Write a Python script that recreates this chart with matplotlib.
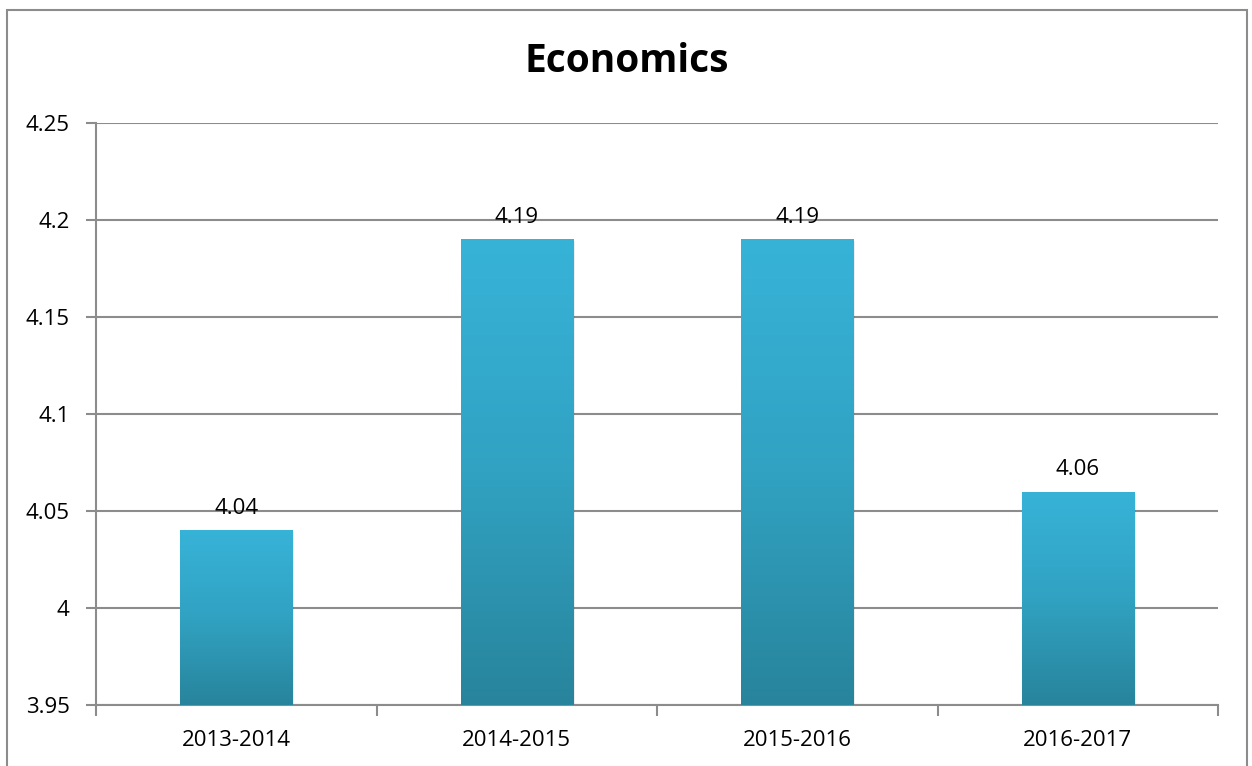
import numpy as np
import matplotlib
matplotlib.use('Agg')
from matplotlib import pyplot as plt
from matplotlib.patches import Rectangle
from matplotlib.colors import LinearSegmentedColormap

# data
years = ['2013-2014', '2014-2015', '2015-2016', '2016-2017']
scores = [4.04, 4.19, 4.19, 4.06]
y_ticks = [3.95, 4.0, 4.05, 4.1, 4.15, 4.2, 4.25]
y_labels = ['3.95', '4', '4.05', '4.1', '4.15', '4.2', '4.25']

plt.rcParams['font.family'] = ['Open Sans', 'DejaVu Sans']

fig = plt.figure(figsize=(12.52, 7.66), dpi=100)
ax = fig.add_axes([96/1252, 1 - 705/766, (1218 - 96)/1252, (705 - 123)/766])

# outer chart frame
fig.patches.append(Rectangle((7/1252, -0.05), (1247 - 7)/1252, 1.05 - 10/766,
                             transform=fig.transFigure, fill=False,
                             edgecolor='#8c8c8c', lw=1.5))

x = np.arange(len(years))
ymin, ymax = 3.95, 4.25
bars = ax.bar(x, np.array(scores) - ymin, bottom=ymin, width=0.40,
              color='none', zorder=3)

grad = LinearSegmentedColormap.from_list('bar', ['#28849c', '#31a2c2', '#37b3d8'])
g = np.linspace(0, 1, 256).reshape(-1, 1)
for b, v in zip(bars, scores):
    x0 = b.get_x()
    w = b.get_width()
    # soft shadow
    ax.add_patch(Rectangle((x0 + 0.006, ymin), w, v - ymin - 0.001,
                           facecolor='#000000', alpha=0.07, lw=0, zorder=2))
    im = ax.imshow(g, cmap=grad, origin='lower', aspect='auto',
                   extent=[x0, x0 + w, ymin, v], zorder=3, interpolation='bilinear')
    im.set_clip_path(b)
    ax.text(b.get_x() + w/2, v + 0.006, f'{v:.2f}', ha='center', va='bottom',
            fontsize=16, color='#000000', zorder=4)

ax.set_xlim(-0.5, len(years) - 0.5)
ax.set_ylim(ymin, ymax)
ax.set_yticks(y_ticks)
ax.set_yticklabels(y_labels, fontsize=16)
ax.set_xticks(x)
ax.set_xticklabels(years, fontsize=16)
ax.set_xticks(np.arange(-0.5, len(years)), minor=True)
ax.tick_params(axis='x', which='major', length=0, pad=18)
ax.tick_params(axis='x', which='minor', length=8, color='#8c8c8c', width=1.5)
ax.tick_params(axis='y', length=7, color='#8c8c8c', width=1.5, pad=12)

ax.grid(axis='y', color='#8c8c8c', lw=1.5, zorder=0)
ax.set_axisbelow(True)
for s in ['top', 'right']:
    ax.spines[s].set_visible(False)
for s in ['left', 'bottom']:
    ax.spines[s].set_color('#8c8c8c')
    ax.spines[s].set_linewidth(1.5)

fig.text(627/1252, 1 - 62/766, 'Economics', ha='center', va='center',
         fontsize=28, fontweight='bold')

fig.savefig('out.png', dpi=100)
